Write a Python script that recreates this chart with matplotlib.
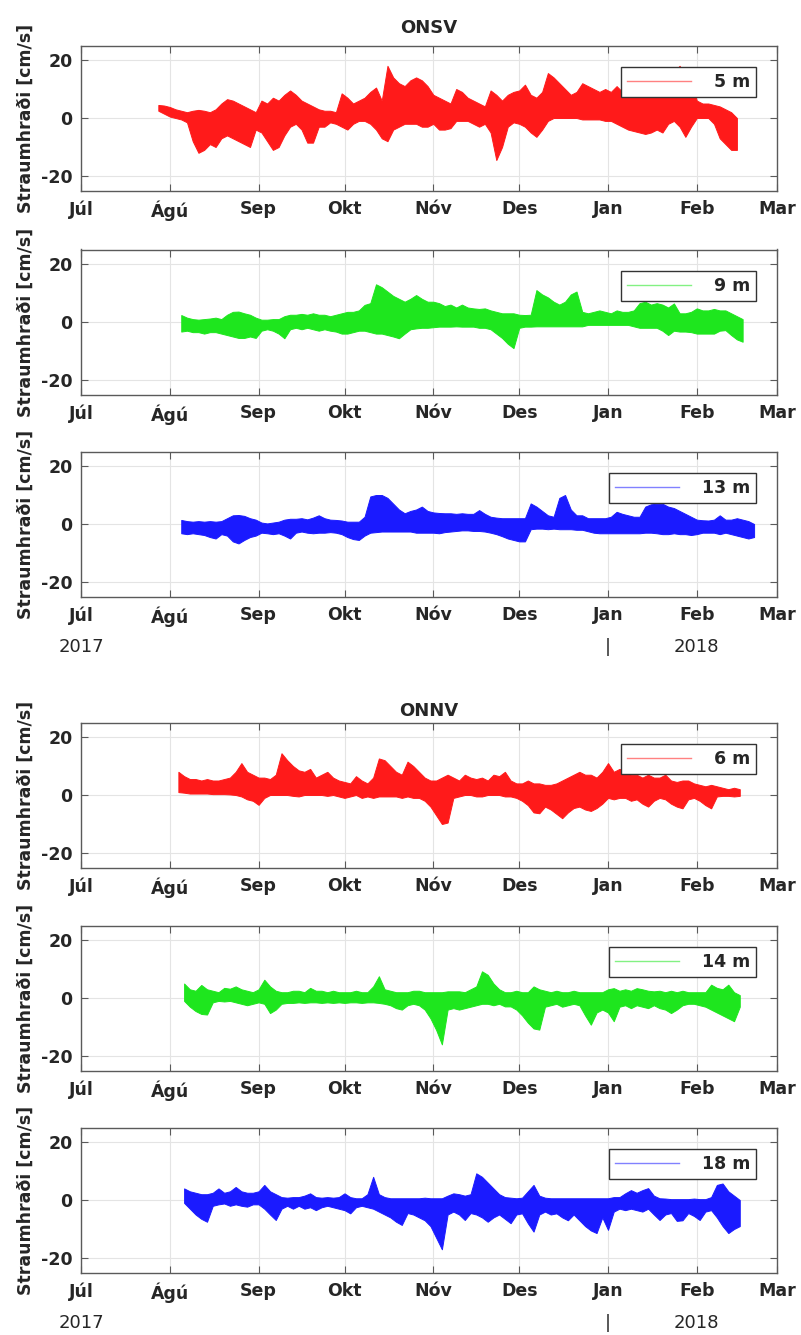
import numpy as np
import matplotlib
matplotlib.use('Agg')
import matplotlib.pyplot as plt
import matplotlib.dates as mdates
import matplotlib.transforms as mtrans
import datetime as dt

plt.rcParams['font.family'] = ['DejaVu Sans']
plt.rcParams['axes.unicode_minus'] = False

# ---------------- data (envelopes of current-stick plots, cm/s) ----------------
# x = days since 1 July 2017, sampled every 2 days from the start day
month_labels = ['Júl', 'Ágú', 'Sep', 'Okt', 'Nóv', 'Des', 'Jan', 'Feb', 'Mar']
month_starts = ['2017-07-01', '2017-08-01', '2017-09-01', '2017-10-01', '2017-11-01',
                '2017-12-01', '2018-01-01', '2018-02-01', '2018-03-01']
station_titles = ['ONSV', 'ONNV']
depth_labels = ['5 m', '9 m', '13 m', '6 m', '14 m', '18 m']
start_days = [27, 35, 35, 34, 36, 36]
step_days = 2

upper_5m = [4.5, 4.3, 3.8, 3.0, 2.5, 2.0, 2.5, 2.8, 2.5, 2.0,
            3.0, 5.0, 6.5, 6.0, 5.0, 4.0, 3.0, 2.0, 6.0, 5.0,
            7.0, 6.0, 8.0, 9.5, 8.0, 6.0, 5.0, 4.0, 3.0, 2.5,
            2.5, 2.0, 8.5, 7.0, 5.0, 6.0, 7.0, 9.0, 10.5, 6.0,
            18.0, 14.0, 12.0, 11.0, 13.0, 14.0, 13.0, 11.0, 8.0, 7.0,
            6.0, 5.0, 10.0, 9.0, 7.0, 6.0, 5.0, 4.0, 9.5, 8.0,
            6.0, 8.0, 9.0, 9.5, 11.5, 8.0, 7.0, 9.0, 15.5, 14.0,
            12.0, 10.0, 8.0, 9.0, 12.0, 11.0, 10.0, 9.0, 10.0, 9.0,
            11.0, 9.0, 8.0, 10.0, 9.0, 10.0, 11.0, 12.0, 13.0, 15.0,
            16.0, 18.0, 14.0, 12.0, 6.0, 5.0, 5.0, 4.5, 4.0, 3.0,
            2.0, 0.0]
lower_5m = [2.5, 1.5, 0.5, 0.0, -0.5, -1.5, -8, -12, -11, -9,
            -10, -7, -6, -7, -8, -9, -10, -4, -5, -8,
            -11, -10, -6, -3, -2, -4, -8.5, -8.5, -3, -3,
            -1.5, -2, -3, -4, -2, -1, -1, -2, -4, -7,
            -8, -4, -3, -2, -2, -2, -3, -3, -2, -4,
            -4, -3.5, -1, -1, -1, -2, -3, -2, -5, -14.5,
            -10, -3, -1.5, -2, -3, -5, -6.5, -4, -1, 0,
            0, 0, 0, 0, -0.5, -0.5, -0.5, -0.5, -1, -1,
            -2, -3, -4, -4.5, -5, -5.5, -5, -4, -5, -2,
            -1, -3, -6.5, -3, 0, 0, 0, -2, -7, -9,
            -11, -11]

upper_9m = [2.4, 1.5, 1.0, 0.8, 1.0, 1.2, 1.5, 1.0, 2.5, 3.5,
            3.6, 3.0, 2.5, 1.5, 0.8, 0.8, 1.0, 1.0, 2.0, 2.5,
            2.5, 2.8, 2.5, 3.0, 2.5, 2.5, 2.0, 2.5, 3.0, 3.5,
            3.5, 4.0, 5.9, 6.5, 13.0, 12, 10.5, 9, 8, 7,
            8, 9.3, 8, 7, 7, 6.5, 5.5, 6, 5, 6,
            5, 4.7, 4.5, 4.7, 4, 3.5, 3, 3, 3, 2.5,
            2.4, 2.5, 11, 9.5, 8.5, 7, 6, 7, 9.5, 10.5,
            3.5, 3, 3.5, 4, 3.5, 3, 4, 3.5, 3.5, 4,
            6.5, 7, 6, 6.5, 6, 5, 6.4, 3, 3, 3.5,
            4.7, 4, 4, 4.5, 4, 4, 3, 2, 1]
lower_9m = [-3.3, -3, -3.5, -3.5, -4, -3.5, -3.5, -4, -4.5, -5,
            -5.5, -5.5, -5, -5.5, -3, -2.5, -3, -4, -5.6, -2.5,
            -2, -2.5, -2, -2.5, -3, -2.5, -3, -3.3, -4, -4,
            -3.5, -3, -3, -3.5, -4, -4, -4.5, -5, -5.6, -4,
            -2.5, -2.2, -2, -2, -1.8, -1.6, -1.6, -1.6, -1.5, -1.6,
            -1.6, -1.6, -2, -2, -2.5, -4, -5.5, -7.5, -9, -2,
            -1.6, -1.6, -1.5, -1.5, -1.5, -1.5, -1.5, -1.5, -1.5, -1.5,
            -1.5, -1, -1, -1, -1, -1, -1, -1, -1, -1.5,
            -2, -2, -2, -2, -3, -4.5, -3, -3.3, -3.3, -3.5,
            -4, -4, -4, -4, -3, -2.8, -4.5, -6, -6.8]

upper_13m = [1.4, 1.0, 0.8, 1.0, 0.8, 1.0, 0.8, 1.0, 2.0, 3.0,
             3.1, 2.8, 2.0, 1.5, 0.5, 0.2, 0.5, 0.8, 1.5, 1.8,
             1.8, 2.0, 1.6, 2.2, 3.0, 2.0, 1.5, 1.4, 1.2, 0.8,
             0.8, 0.8, 2.5, 9.5, 10, 10, 9, 7, 5, 3.7,
             4.5, 5, 6, 4.5, 4, 3.8, 3.7, 3.7, 3.5, 3.7,
             3.5, 3.5, 4.8, 3.5, 2.5, 2.2, 2, 2, 2, 2,
             2, 7.1, 6, 4.5, 3, 2.5, 9, 10, 5, 3,
             3, 2, 2, 2, 2, 2.5, 4.2, 3.5, 3, 2.5,
             2.5, 6, 6.8, 7, 7, 6, 5.5, 4.5, 3.5, 2.5,
             1.5, 1.3, 1.2, 1.5, 3, 1.5, 1.5, 2, 1.5, 1,
             0]
lower_13m = [-3.2, -3.5, -3.2, -3.5, -3.8, -4.5, -5, -3.5, -4, -6,
             -6.7, -5.5, -4.5, -4, -3, -3.2, -3.5, -3.2, -4, -5,
             -3, -2.6, -3, -3.2, -3, -3, -2.8, -3, -3.5, -4.5,
             -5.2, -5.5, -4, -3, -2.8, -2.6, -2.6, -2.6, -2.6, -2.6,
             -2.6, -3, -3, -3, -3, -3.2, -2.8, -2.6, -2.4, -2.2,
             -2.2, -2.4, -2.4, -2.6, -3, -3.5, -4.2, -5, -5.5, -6,
             -6, -1.8, -1.6, -1.6, -1.8, -1.6, -1.8, -1.8, -1.8, -2,
             -2, -2.5, -3, -3.2, -3.2, -3.2, -3.2, -3.2, -3.2, -3.2,
             -3.2, -3, -3, -3.2, -3.5, -3.5, -3.2, -3.5, -3.5, -3.8,
             -3.5, -3, -3, -3, -3.5, -3, -3.5, -4, -4.5, -5,
             -4.5]

upper_6m = [8, 6.5, 5.5, 5.5, 5, 5.5, 5, 5, 5.5, 6,
            8, 11, 8, 7, 6, 6, 5.5, 7, 14.4, 12,
            10, 8.5, 8, 9, 6, 7, 8, 6, 5, 4.5,
            4, 6.5, 5, 4, 6, 12.6, 12, 10, 8, 7,
            11.5, 10, 8, 6, 5, 5, 6, 7, 6, 5,
            7, 6, 5.5, 6, 5, 7, 6.5, 8, 5, 4,
            4, 5, 4, 4, 3.5, 3.5, 4, 5, 6, 7,
            8, 7, 7, 6, 8, 11, 8, 9, 8, 7,
            7, 6, 7, 6, 6, 7, 5, 4.5, 5, 5,
            4, 3.5, 3, 3.5, 3, 2.5, 2, 2.5, 2]
lower_6m = [1, 0.8, 0.5, 0.5, 0.5, 0.5, 0.3, 0.3, 0.3, 0.2,
            0, -0.5, -1.5, -2, -3.4, -1, 0, 0, 0, 0,
            -0.3, -0.5, 0, 0, 0, 0, -0.3, 0, -0.5, -1,
            -0.5, 0, -1, -0.5, -1, -0.5, -0.5, -0.5, -0.5, -1,
            -0.5, -1, -1, -2, -4, -7, -10, -9.5, -1, -0.5,
            0, 0, -0.5, -0.5, 0, 0, 0, -0.5, -0.5, -1,
            -2, -3.5, -6, -6.3, -4, -5, -6.5, -8, -6, -4.5,
            -4, -5, -5.5, -4.5, -3, -1, -1.5, -1, -1, -2,
            -1.5, -3, -4, -2, -1, -1.5, -3, -4, -4.6, -1.5,
            -1, -2, -3.5, -4.6, -0.5, -0.3, -0.3, -0.5, -0.3]

upper_14m = [5, 3, 2.5, 4.5, 3, 2.5, 2, 3.5, 3.2, 4,
             3, 2.5, 2, 3, 6.3, 4, 2.5, 2, 2, 2.5,
             2.5, 2, 3.5, 2.5, 2.5, 2, 2.5, 2, 2, 2,
             2.5, 2, 2, 4, 7.5, 3, 2.5, 2, 2, 2,
             2.5, 2.5, 2, 2, 2, 2, 2.3, 2.3, 2.3, 2,
             3, 4, 9.2, 8, 5, 3, 2, 2, 2.5, 2,
             2, 4, 3, 2.5, 2, 2.5, 2, 2, 2.5, 2,
             2, 2, 2, 2, 3, 3.4, 2.5, 3, 2.5, 3.4,
             3, 2.5, 2.3, 2.5, 2, 2.5, 2, 2.5, 2, 2,
             2, 2, 4.6, 3.5, 3, 4.6, 2, 1]
lower_14m = [-1, -3, -4.5, -5.5, -5.7, -1.5, -1, -1.2, -1, -1.5,
             -2, -2.5, -2, -1.5, -2, -5.2, -4, -2, -1.7, -1.7,
             -1.5, -1.7, -1.5, -1.5, -1.7, -1.5, -1.7, -1.5, -1.7, -1.5,
             -1.5, -1.7, -1.5, -1.5, -1.7, -2, -2.5, -3.5, -4, -2.5,
             -2, -2.5, -4, -7, -11, -16, -4, -3.5, -4, -3.5,
             -3, -2.5, -2, -2, -2.5, -2, -2.9, -2.9, -4, -6,
             -8.5, -10.5, -10.9, -3, -2.5, -2, -3, -2.5, -2, -2.5,
             -6, -9.2, -5, -4, -5, -8, -3, -2.5, -3.5, -2.5,
             -3, -3.5, -2.5, -3.5, -4, -5.2, -4, -2.5, -2, -2,
             -2.5, -3, -4, -5, -6, -7, -8, -3]

upper_18m = [4, 3, 2.5, 2, 2, 2.5, 4, 2.5, 3, 4.5,
             3, 2.5, 2.5, 3, 5.2, 3, 2, 1, 0.8, 1,
             1, 1.5, 2.3, 1, 0.8, 1, 0.8, 1, 2.3, 1,
             0.6, 0.6, 2, 8, 2, 1, 0.6, 0.6, 0.6, 0.6,
             0.6, 0.6, 0.8, 0.6, 0.6, 0.6, 1.5, 2.3, 2, 1.5,
             2, 9.2, 8, 6, 4, 2, 1, 0.8, 0.6, 0.8,
             3, 5.2, 1.5, 0.8, 0.6, 0.6, 0.6, 0.6, 0.6, 0.6,
             0.6, 0.6, 0.6, 0.6, 0.6, 1, 1, 2.3, 3.4, 2.5,
             3.4, 4.1, 1.5, 0.6, 0.5, 0.3, 0.3, 0.3, 0.3, 0.5,
             0.3, 0.3, 1, 5.2, 5.7, 3, 1.5, 0]
lower_18m = [-1, -3, -5, -6.5, -7.5, -2, -1.5, -1.2, -2, -1.5,
             -2, -2.3, -1.5, -1.5, -3, -5, -6.9, -3, -2, -3,
             -2, -3, -2.5, -3.5, -2.5, -2, -2.5, -3, -3.5, -4.6,
             -2.5, -2, -2.5, -3, -4, -5, -6, -7.5, -8.6, -4.5,
             -5, -6, -7, -9, -13, -17, -5, -4, -5, -6.9,
             -4.5, -5, -6, -7.5, -6, -5, -6.5, -8, -5, -4.6,
             -8, -10.9, -5, -4, -5, -4.6, -6, -7, -5, -7,
             -9, -10.5, -11.4, -6, -10.3, -4, -3, -3.5, -3, -3.5,
             -4, -3, -5, -6.9, -5, -4.5, -7.2, -7, -4.5, -5.5,
             -6.9, -4, -3.5, -6, -9, -11.4, -10, -9]

uppers = [upper_5m, upper_9m, upper_13m, upper_6m, upper_14m, upper_18m]
lowers = [lower_5m, lower_9m, lower_13m, lower_6m, lower_14m, lower_18m]

# ---------------- style / layout ----------------
colors = ['#ff1a1a', '#1ee61e', '#1a1aff', '#ff1a1a', '#1ee61e', '#1a1aff']
W, H = 801, 1335
ax_left, ax_width, ax_height = 81, 696, 145
ax_tops = [45.5, 249.5, 451.5, 722.5, 925.5, 1127.5]
title_y = [28, 711]
txt_col = '#262626'
spine_col = '#5a5a5a'
fs = 12.5

base = mdates.date2num(dt.datetime(2017, 7, 1))
tick_pos = [mdates.date2num(dt.datetime.strptime(s, '%Y-%m-%d')) for s in month_starts]

fig = plt.figure(figsize=(W / 100, H / 100), dpi=100)
fig.patch.set_facecolor('white')

axes = []
for i in range(6):
    top = ax_tops[i]
    ax = fig.add_axes([ax_left / W, 1 - (top + ax_height) / H, ax_width / W, ax_height / H])
    axes.append(ax)
    up = np.array(uppers[i], dtype=float)
    lo = np.array(lowers[i], dtype=float)
    n = min(len(up), len(lo))
    x = base + start_days[i] + step_days * np.arange(n)
    ax.fill_between(x, lo[:n], up[:n], color=colors[i], edgecolor=colors[i],
                    linewidth=0.7, zorder=2)
    ax.plot([], [], color=colors[i], lw=1.0, alpha=0.55, label=depth_labels[i])

    ax.set_xlim(tick_pos[0], tick_pos[-1])
    ax.set_ylim(-25, 25)
    ax.set_xticks(tick_pos)
    ax.set_xticklabels(month_labels, fontsize=fs, fontweight='bold', color=txt_col)
    ax.set_yticks([-20, 0, 20])
    ax.set_yticklabels(['-20', '0', '20'], fontsize=fs, fontweight='bold', color=txt_col)
    ax.tick_params(axis='both', direction='in', length=5, width=0.8, color=spine_col,
                   top=True, right=True)
    ax.tick_params(axis='x', pad=7)
    ax.tick_params(axis='y', pad=6)
    ax.grid(True, color='#e4e4e4', linewidth=0.8)
    ax.set_axisbelow(True)
    for sp in ax.spines.values():
        sp.set_color(spine_col)
        sp.set_linewidth(1.0)
    ax.set_ylabel('Straumhraði [cm/s]', fontsize=fs, fontweight='bold', color=txt_col)
    ax.yaxis.set_label_coords(-0.066, 0.5)

    leg = ax.legend(loc='upper right', bbox_to_anchor=(0.970, 0.855), borderaxespad=0,
                    prop={'size': fs, 'weight': 'bold'}, handlelength=3.7,
                    handletextpad=1.3, borderpad=0.35, fancybox=False, framealpha=1,
                    edgecolor='#333333')
    leg.get_frame().set_linewidth(1.0)
    for t in leg.get_texts():
        t.set_color(txt_col)

# station titles
for k, name in enumerate(station_titles):
    fig.text((ax_left + ax_width / 2) / W, 1 - title_y[k] / H, name, ha='center',
             va='center', fontsize=13, fontweight='bold', color=txt_col)

# year annotations below panels 3 and 6
year_marks = [('2017', '2017-07-01'), ('|', '2018-01-01'), ('2018', '2018-02-01')]
for idx in (2, 5):
    ax = axes[idx]
    trans = mtrans.blended_transform_factory(ax.transData, ax.transAxes)
    for lab, d in year_marks:
        xv = mdates.date2num(dt.datetime.strptime(d, '%Y-%m-%d'))
        ax.text(xv, -50 / ax_height, lab, transform=trans, ha='center', va='center',
                fontsize=13, color=txt_col, clip_on=False)

fig.savefig('out.png', dpi=100)
